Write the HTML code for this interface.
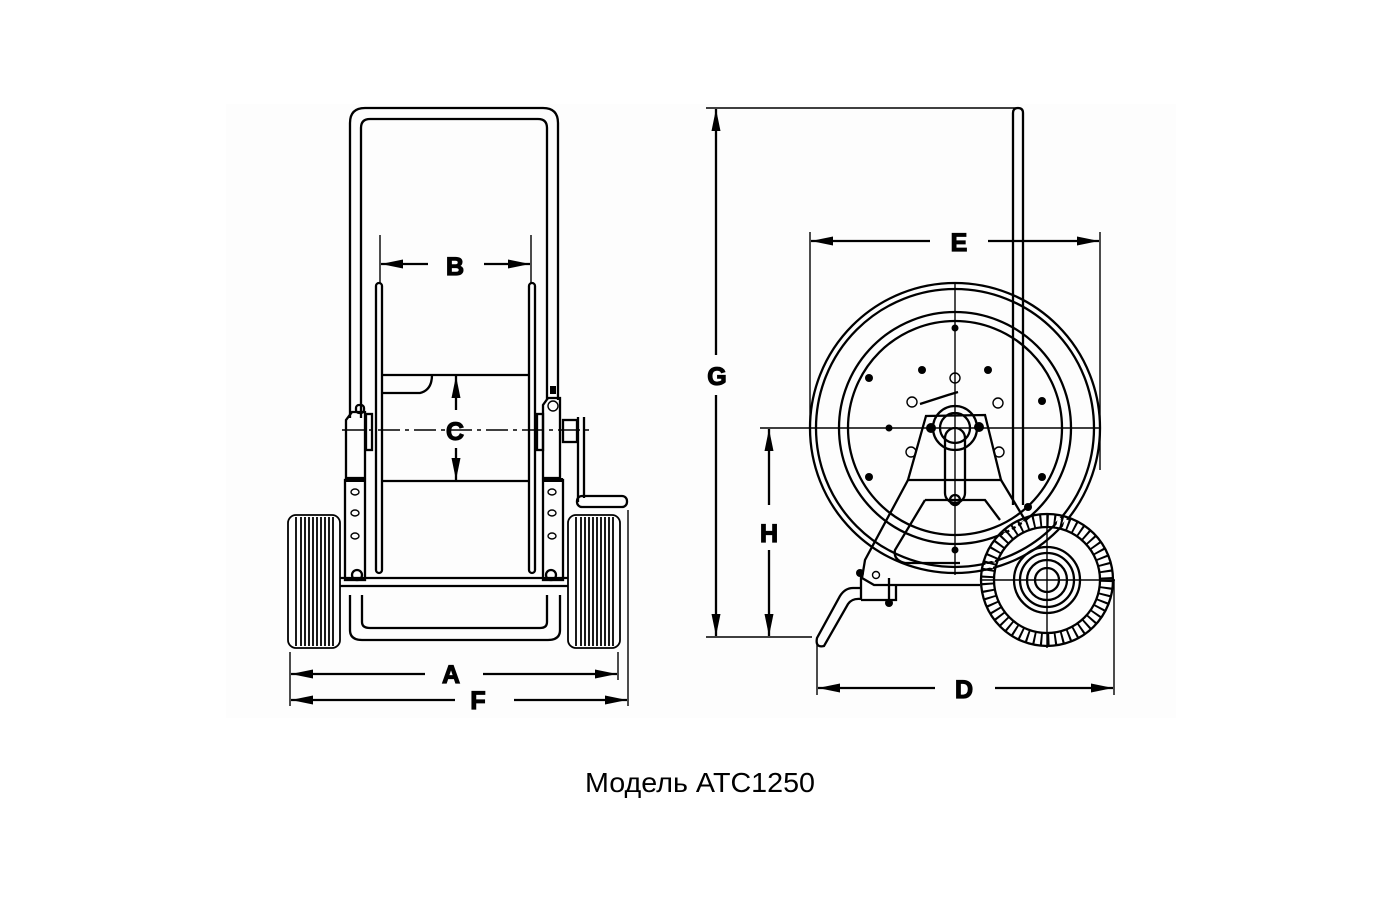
<!DOCTYPE html>
<html><head><meta charset="utf-8"><style>
html,body{margin:0;padding:0;background:#fff;}
svg{display:block}
.l{fill:none;stroke:#000;stroke-width:2.3}
.t{fill:none;stroke:#000;stroke-width:1.4}
.lab{font-family:"Liberation Sans",sans-serif;font-weight:bold;font-size:25px;text-anchor:middle;stroke:#000;stroke-width:1.2}
</style></head><body>
<svg width="1400" height="900" viewBox="0 0 1400 900" xmlns="http://www.w3.org/2000/svg">
<defs>
<marker id="a" viewBox="0 0 22 9" refX="22" refY="4.5" markerWidth="22" markerHeight="9" markerUnits="userSpaceOnUse" orient="auto-start-reverse"><path d="M0,0 L22,4.5 L0,9 Z" fill="#000"/></marker>
</defs>
<rect x="0" y="0" width="1400" height="900" fill="#fff"/>
<rect x="226" y="104" width="950" height="614" fill="#fdfdfd"/>

<!-- ========== FRONT VIEW ========== -->
<path class="l" d="M350,418 V123 Q350,108 365,108 H543 Q558,108 558,123 V400"/>
<path class="l" d="M361,418 V128 Q361,119 370,119 H538 Q547,119 547,128 V400"/>
<rect class="l" x="376" y="283" width="6" height="290" rx="3"/>
<rect class="l" x="529" y="283" width="6" height="290" rx="3"/>
<line class="l" x1="383" y1="375" x2="528" y2="375"/>
<line class="l" x1="383" y1="481" x2="528" y2="481"/>
<path class="l" d="M383,393 H420 Q432,390 432,375"/>
<line class="t" x1="342" y1="430" x2="594" y2="430" stroke-dasharray="22,5,4,5"/>
<path class="l" d="M346,478 V420 L352,412 H365 V478 Z"/>
<rect class="l" x="356" y="405" width="8" height="8" rx="3"/>
<rect class="l" x="366" y="414" width="6" height="36"/>
<rect class="l" x="345" y="480" width="20" height="100"/>
<line x1="345" y1="480" x2="365" y2="480" stroke="#000" stroke-width="4"/>
<ellipse class="t" cx="355" cy="492" rx="4" ry="3"/><ellipse class="t" cx="355" cy="513" rx="4" ry="3"/><ellipse class="t" cx="355" cy="536" rx="4" ry="3"/>
<path class="l" d="M543,478 V405 L548,398 H560 V478 Z"/>
<circle class="t" cx="553" cy="406" r="5"/>
<rect x="550" y="386" width="6" height="8" fill="#000"/>
<rect class="l" x="537" y="414" width="6" height="36"/>
<rect class="l" x="563" y="420" width="14" height="22"/>
<line class="l" x1="578" y1="417" x2="578" y2="502"/>
<line class="l" x1="584" y1="417" x2="584" y2="498"/>
<rect class="l" x="577" y="496" width="50" height="11" rx="5"/>
<rect class="l" x="543" y="480" width="20" height="100"/>
<line x1="543" y1="480" x2="563" y2="480" stroke="#000" stroke-width="4"/>
<ellipse class="t" cx="552" cy="492" rx="4" ry="3"/><ellipse class="t" cx="552" cy="513" rx="4" ry="3"/><ellipse class="t" cx="552" cy="536" rx="4" ry="3"/>
<line class="l" x1="340" y1="578" x2="568" y2="578"/>
<line class="l" x1="340" y1="586" x2="568" y2="586"/>
<circle class="l" cx="357" cy="575" r="5"/><circle class="l" cx="551" cy="575" r="5"/>
<path class="l" d="M350,595 V630 Q350,640 362,640 H548 Q560,640 560,630 V595"/>
<path class="l" d="M362,595 V622 Q362,628 370,628 H540 Q547,628 547,622 V595"/>
<g fill="none" stroke="#000" stroke-width="1.8">
<rect x="288" y="515" width="52" height="133" rx="8"/>
<rect x="568" y="515" width="52" height="133" rx="8"/>
<path d="M296,517V646M301,517V646M305,517V646M309,517V646M313,517V646M317,517V646M321,517V646M325,517V646M329,517V646M333,517V646"/>
<path d="M576,517V646M581,517V646M585,517V646M589,517V646M593,517V646M597,517V646M601,517V646M605,517V646M609,517V646M613,517V646"/>
</g>
<line class="t" x1="290" y1="652" x2="290" y2="706"/>
<line class="t" x1="618" y1="652" x2="618" y2="680"/>
<line class="t" x1="628" y1="510" x2="628" y2="706"/>
<line class="l" x1="425" y1="674" x2="291" y2="674" marker-end="url(#a)"/>
<line class="l" x1="483" y1="674" x2="617" y2="674" marker-end="url(#a)"/>
<text class="lab" x="451" y="683">A</text>
<line class="l" x1="455" y1="700" x2="291" y2="700" marker-end="url(#a)"/>
<line class="l" x1="514" y1="700" x2="627" y2="700" marker-end="url(#a)"/>
<text class="lab" x="478" y="709">F</text>
<line class="t" x1="380" y1="235" x2="380" y2="283"/>
<line class="t" x1="531" y1="235" x2="531" y2="283"/>
<line class="l" x1="428" y1="264" x2="381" y2="264" marker-end="url(#a)"/>
<line class="l" x1="484" y1="264" x2="530" y2="264" marker-end="url(#a)"/>
<text class="lab" x="455" y="275">B</text>
<line class="l" x1="456" y1="410" x2="456" y2="376" marker-end="url(#a)"/>
<line class="l" x1="456" y1="448" x2="456" y2="480" marker-end="url(#a)"/>
<text class="lab" x="455" y="440">C</text>

<!-- ========== SIDE VIEW ========== -->
<line class="t" x1="706" y1="108" x2="1016" y2="108"/>
<line class="t" x1="706" y1="637" x2="812" y2="637"/>
<line class="l" x1="716" y1="355" x2="716" y2="109" marker-end="url(#a)"/>
<line class="l" x1="716" y1="395" x2="716" y2="636" marker-end="url(#a)"/>
<text class="lab" x="717" y="385">G</text>
<circle class="l" cx="955" cy="428" r="145"/>
<circle class="l" cx="955" cy="428" r="139"/>
<circle class="l" cx="955" cy="428" r="116"/>
<circle class="l" cx="955" cy="428" r="107"/>
<line class="t" x1="760" y1="428" x2="1100" y2="428"/>
<line class="t" x1="955" y1="282" x2="955" y2="575"/>
<line class="t" x1="810" y1="232" x2="810" y2="430"/>
<line class="t" x1="1100" y1="232" x2="1100" y2="470"/>
<line class="l" x1="930" y1="241" x2="811" y2="241" marker-end="url(#a)"/>
<line class="l" x1="988" y1="241" x2="1099" y2="241" marker-end="url(#a)"/>
<text class="lab" x="959" y="251">E</text>
<line class="l" x1="769" y1="505" x2="769" y2="429" marker-end="url(#a)"/>
<line class="l" x1="769" y1="550" x2="769" y2="636" marker-end="url(#a)"/>
<text class="lab" x="769" y="542">H</text>
<g fill="#000">
<circle cx="955" cy="328" r="3.5"/><circle cx="922" cy="370" r="4"/><circle cx="988" cy="370" r="4"/>
<circle cx="869" cy="378" r="4"/><circle cx="1042" cy="401" r="4"/><circle cx="889" cy="428" r="3.5"/>
<circle cx="869" cy="477" r="4"/><circle cx="1042" cy="477" r="4"/><circle cx="955" cy="550" r="3.5"/>
<circle cx="1028" cy="507" r="4"/>
</g>
<g class="t">
<circle cx="955" cy="378" r="5"/><circle cx="912" cy="402" r="5"/><circle cx="998" cy="403" r="5"/>
<circle cx="911" cy="452" r="5"/><circle cx="999" cy="452" r="5"/>
</g>
<path class="l" d="M926,416 L985,415 L1001,480 L908,480 Z"/>
<circle class="l" cx="955" cy="428" r="22"/>
<circle class="l" cx="955" cy="428" r="15"/>
<circle cx="931" cy="428" r="5" fill="#000"/><circle cx="979" cy="427" r="5" fill="#000"/>
<path class="l" d="M920,404 L948,395 L958,392"/>
<rect class="l" x="945" y="428" width="20" height="75" rx="10"/>
<circle class="l" cx="955" cy="500" r="5"/>
<path class="l" d="M908,480 L865,560 L862,578 L874,585 L980,585"/>
<path class="l" d="M1001,480 L1025,520"/>
<path class="l" d="M925,500 L985,500 L1000,520"/>
<path class="l" d="M925,500 L895,550 Q893,560 905,563 L960,563"/>
<circle class="t" cx="876" cy="575" r="3.5"/>
<circle cx="860" cy="573" r="4" fill="#000"/>
<path class="l" d="M861,572 V600 M889,578 V600 M861,600 H896 V586"/>
<circle cx="889" cy="603" r="4" fill="#000"/>
<path class="l" d="M861,588 H853 Q845,588 840,596 L817,638 Q815,648 824,646 L848,604 Q852,598 861,599"/>
<path class="l" d="M1013,505 V113 Q1013,108 1018,108 Q1023,108 1023,113 V505"/>
<circle class="l" cx="1047" cy="580" r="66"/>
<circle class="l" cx="1047" cy="580" r="53"/>
<circle cx="1047" cy="580" r="59.5" fill="none" stroke="#000" stroke-width="12" stroke-dasharray="2,5"/>
<circle cx="1047" cy="580" r="59.5" fill="none" stroke="#fff" stroke-width="8" stroke-dasharray="3,4" stroke-dashoffset="-3.5"/>
<circle class="l" cx="1047" cy="580" r="33"/>
<circle class="l" cx="1047" cy="580" r="27"/>
<circle class="l" cx="1047" cy="580" r="20"/>
<circle class="l" cx="1047" cy="580" r="12"/>
<line class="t" x1="980" y1="580" x2="1115" y2="580"/>
<line class="t" x1="1047" y1="513" x2="1047" y2="648"/>
<line class="t" x1="817" y1="645" x2="817" y2="695"/>
<line class="t" x1="1114" y1="580" x2="1114" y2="695"/>
<line class="l" x1="935" y1="688" x2="818" y2="688" marker-end="url(#a)"/>
<line class="l" x1="995" y1="688" x2="1113" y2="688" marker-end="url(#a)"/>
<text class="lab" x="964" y="698">D</text>

<text x="700" y="792" font-family="Liberation Sans, sans-serif" font-size="28" text-anchor="middle" textLength="230" lengthAdjust="spacingAndGlyphs">Модель ATC1250</text>
</svg>
</body></html>
